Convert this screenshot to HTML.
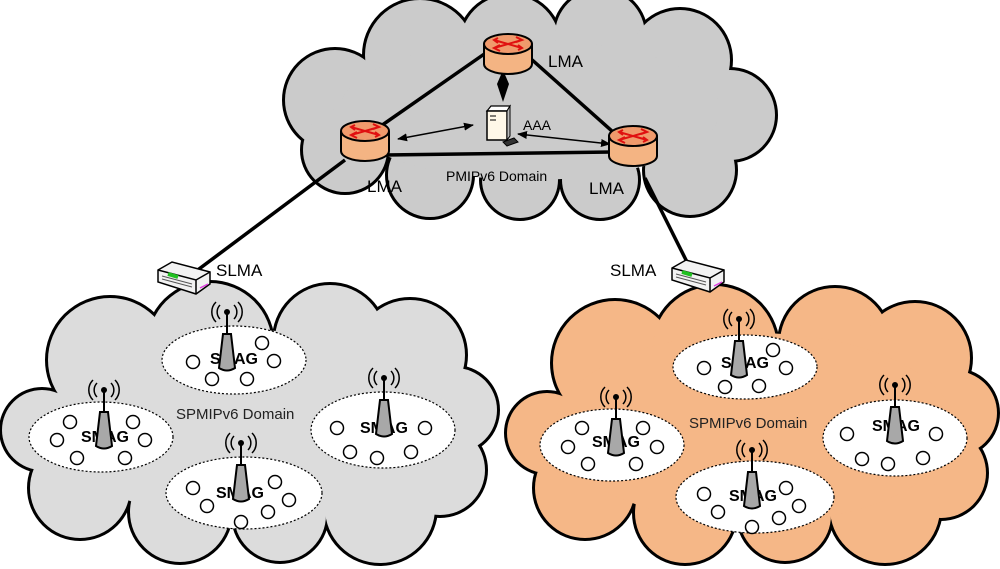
<!DOCTYPE html>
<html><head><meta charset="utf-8"><style>
html,body{margin:0;padding:0;background:#fff}
svg{display:block}
text{font-family:"Liberation Sans",sans-serif}
</style></head><body>
<svg width="1000" height="569" viewBox="0 0 1000 569" xmlns="http://www.w3.org/2000/svg">
<defs>
<g id="tower">
<path d="M-7,-7 A10,10 0 0 0 -7,7 M7,-7 A10,10 0 0 1 7,7 M-11,-10 A14,14 0 0 0 -11,10 M11,-10 A14,14 0 0 1 11,10" fill="none" stroke="#000" stroke-width="1.5"/>
<line x1="0" y1="0" x2="0" y2="24" stroke="#000" stroke-width="2"/>
<circle cx="0" cy="0" r="3" fill="#000"/>
<path d="M-4,22 L4,22 L8,56 Q0,61 -8,56 Z" fill="#a8a8a8" stroke="#000" stroke-width="2"/>
</g>
<g id="router">
<path d="M-24,0 L-24,20 A24,10 0 0 0 24,20 L24,0" fill="#f4b483" stroke="#000" stroke-width="2"/>
<ellipse cx="0" cy="0" rx="24" ry="10" fill="#f09a6c" stroke="#000" stroke-width="2"/>
<path d="M-14,4 L14,-4 M-14,-4 L14,4 M-10,-6 L-14,-4 L-10,-1 M10,6 L14,4 L10,1 M8,-7 L14,-4 L8,-2 M-8,7 L-14,4 L-8,1" fill="none" stroke="#e01010" stroke-width="2"/>
</g>
<g id="slma">
<path d="M0,8 L14,0 L52,10 L52,22 L38,32 L0,20 Z" fill="#f2f2f2" stroke="#000" stroke-width="1.5"/>
<path d="M0,8 L38,18 L52,10 M38,18 L38,32" fill="none" stroke="#000" stroke-width="1.5"/>
<path d="M4,14 L34,22 M4,17 L34,25" stroke="#555" stroke-width="1"/>
<path d="M10,12 L20,15" stroke="#20c020" stroke-width="4"/>
<path d="M42,26 L50,22" stroke="#e040e0" stroke-width="1.5"/>
</g>
<marker id="ah" markerWidth="10" markerHeight="8" refX="9" refY="4" orient="auto-start-reverse" markerUnits="userSpaceOnUse"><path d="M0,0 L10,4 L0,8 Z" fill="#000"/></marker>
</defs>

<!-- top cloud -->
<g stroke="#000" stroke-width="6" fill="#000">
<circle cx="335" cy="100" r="50"/><circle cx="420" cy="55" r="55"/><circle cx="510" cy="45" r="50"/><circle cx="600" cy="35" r="45"/><circle cx="680" cy="60" r="50"/><circle cx="730" cy="115" r="45"/><circle cx="690" cy="170" r="45"/><circle cx="600" cy="180" r="38"/><circle cx="520" cy="180" r="38"/><circle cx="430" cy="175" r="42"/><circle cx="345" cy="150" r="42"/>
</g>
<g fill="#cbcbcb">
<circle cx="335" cy="100" r="50"/><circle cx="420" cy="55" r="55"/><circle cx="510" cy="45" r="50"/><circle cx="600" cy="35" r="45"/><circle cx="680" cy="60" r="50"/><circle cx="730" cy="115" r="45"/><circle cx="690" cy="170" r="45"/><circle cx="600" cy="180" r="38"/><circle cx="520" cy="180" r="38"/><circle cx="430" cy="175" r="42"/><circle cx="345" cy="150" r="42"/><ellipse cx="530" cy="110" rx="190" ry="70"/>
</g>

<!-- left cloud -->
<g>
<g stroke="#000" stroke-width="6" fill="#000">
<circle cx="110" cy="360" r="62"/><circle cx="210" cy="345" r="62"/><circle cx="330" cy="340" r="55"/><circle cx="410" cy="355" r="55"/><circle cx="455" cy="410" r="42"/><circle cx="440" cy="470" r="45"/><circle cx="380" cy="508" r="55"/><circle cx="280" cy="515" r="46"/><circle cx="180" cy="512" r="50"/><circle cx="80" cy="488" r="50"/><circle cx="42" cy="430" r="40"/>
</g>
<g fill="#dcdcdc">
<circle cx="110" cy="360" r="62"/><circle cx="210" cy="345" r="62"/><circle cx="330" cy="340" r="55"/><circle cx="410" cy="355" r="55"/><circle cx="455" cy="410" r="42"/><circle cx="440" cy="470" r="45"/><circle cx="380" cy="508" r="55"/><circle cx="280" cy="515" r="46"/><circle cx="180" cy="512" r="50"/><circle cx="80" cy="488" r="50"/><circle cx="42" cy="430" r="40"/><ellipse cx="250" cy="425" rx="200" ry="95"/>
</g>
</g>
<!-- right cloud -->
<g transform="translate(505,3)">
<g stroke="#000" stroke-width="6" fill="#000">
<circle cx="110" cy="360" r="62"/><circle cx="210" cy="345" r="62"/><circle cx="330" cy="340" r="55"/><circle cx="410" cy="355" r="55"/><circle cx="450" cy="410" r="42"/><circle cx="436" cy="470" r="45"/><circle cx="380" cy="505" r="55"/><circle cx="280" cy="512" r="46"/><circle cx="180" cy="510" r="50"/><circle cx="80" cy="485" r="50"/><circle cx="42" cy="430" r="40"/>
</g>
<g fill="#f5b787">
<circle cx="110" cy="360" r="62"/><circle cx="210" cy="345" r="62"/><circle cx="330" cy="340" r="55"/><circle cx="410" cy="355" r="55"/><circle cx="450" cy="410" r="42"/><circle cx="436" cy="470" r="45"/><circle cx="380" cy="505" r="55"/><circle cx="280" cy="512" r="46"/><circle cx="180" cy="510" r="50"/><circle cx="80" cy="485" r="50"/><circle cx="42" cy="430" r="40"/><ellipse cx="250" cy="425" rx="200" ry="95"/>
</g>
</g>

<!-- links -->
<g stroke="#000" stroke-width="3.5" fill="none">
<line x1="490" y1="50" x2="368" y2="135"/>
<line x1="530" y1="58" x2="622" y2="140"/>
<line x1="385" y1="155" x2="612" y2="152"/>
<line x1="345" y1="160" x2="195" y2="272"/>
<line x1="645" y1="178" x2="690" y2="268"/>
</g>
<g stroke="#000" stroke-width="1.5" fill="none">
<line x1="398" y1="139" x2="473" y2="125" marker-start="url(#ah)" marker-end="url(#ah)"/>
<line x1="518" y1="134" x2="610" y2="144" marker-start="url(#ah)" marker-end="url(#ah)"/>
</g>
<path d="M503,70 L509,84 L503,102 L497,84 Z" fill="#000"/>

<use href="#router" x="508" y="44"/>
<use href="#router" x="365" y="131"/>
<use href="#router" x="633" y="136"/>

<!-- server -->
<g>
<path d="M487,111 L491,106 L510,106 L507,111 Z" fill="#fff" stroke="#000" stroke-width="1.2"/>
<rect x="487" y="111" width="20" height="29" fill="#fff8e8" stroke="#000" stroke-width="1.5"/>
<path d="M507,111 L510,106 L510,136 L507,140 Z" fill="#bbb" stroke="#000" stroke-width="1"/>
<line x1="490" y1="116" x2="496" y2="116" stroke="#000"/><line x1="490" y1="120" x2="496" y2="120" stroke="#000"/>
<path d="M503,142 L514,138 L518,142 L507,146 Z" fill="#333" stroke="#000"/>
</g>

<g font-size="17" fill="#000">
<text x="548" y="67">LMA</text>
<text x="367" y="192">LMA</text>
<text x="589" y="194">LMA</text>
<text x="523" y="130" font-size="14">AAA</text>
<text x="446" y="181" font-size="14">PMIPv6 Domain</text>
<text x="216" y="276">SLMA</text>
<text x="610" y="276">SLMA</text>
<text x="176" y="419" font-size="15" fill="#222">SPMIPv6 Domain</text>
<text x="689" y="428" font-size="15" fill="#222">SPMIPv6 Domain</text>
</g>

<use href="#slma" x="158" y="262"/>
<use href="#slma" x="672" y="260"/>

<!-- cells -->
<g fill="#fff" stroke="#000" stroke-width="1.2" stroke-dasharray="2,2">
<ellipse cx="234" cy="360" rx="72" ry="34"/>
<ellipse cx="101" cy="437" rx="72" ry="35"/>
<ellipse cx="383" cy="430" rx="72" ry="38"/>
<ellipse cx="244" cy="493" rx="78" ry="36"/>
<ellipse cx="745" cy="367" rx="72" ry="32"/>
<ellipse cx="612" cy="445" rx="72" ry="36"/>
<ellipse cx="895" cy="438" rx="72" ry="38"/>
<ellipse cx="755" cy="497" rx="79" ry="36"/>
</g>
<g fill="#fff" stroke="#000" stroke-width="1.5">
<circle cx="193" cy="362" r="6.5"/><circle cx="262" cy="343" r="6.5"/><circle cx="274" cy="361" r="6.5"/><circle cx="212" cy="379" r="6.5"/><circle cx="247" cy="379" r="6.5"/>
<circle cx="70" cy="422" r="6.5"/><circle cx="133" cy="422" r="6.5"/><circle cx="57" cy="440" r="6.5"/><circle cx="145" cy="440" r="6.5"/><circle cx="77" cy="458" r="6.5"/><circle cx="125" cy="458" r="6.5"/>
<circle cx="337" cy="428" r="6.5"/><circle cx="425" cy="428" r="6.5"/><circle cx="350" cy="452" r="6.5"/><circle cx="377" cy="458" r="6.5"/><circle cx="411" cy="452" r="6.5"/>
<circle cx="193" cy="488" r="6.5"/><circle cx="275" cy="482" r="6.5"/><circle cx="207" cy="506" r="6.5"/><circle cx="289" cy="500" r="6.5"/><circle cx="268" cy="512" r="6.5"/><circle cx="241" cy="522" r="6.5"/>
<circle cx="704" cy="368" r="6.5"/><circle cx="773" cy="350" r="6.5"/><circle cx="786" cy="368" r="6.5"/><circle cx="725" cy="387" r="6.5"/><circle cx="759" cy="386" r="6.5"/>
<circle cx="582" cy="428" r="6.5"/><circle cx="643" cy="428" r="6.5"/><circle cx="568" cy="447" r="6.5"/><circle cx="657" cy="447" r="6.5"/><circle cx="588" cy="464" r="6.5"/><circle cx="636" cy="464" r="6.5"/>
<circle cx="847" cy="434" r="6.5"/><circle cx="936" cy="434" r="6.5"/><circle cx="862" cy="459" r="6.5"/><circle cx="888" cy="464" r="6.5"/><circle cx="923" cy="458" r="6.5"/>
<circle cx="704" cy="494" r="6.5"/><circle cx="786" cy="488" r="6.5"/><circle cx="718" cy="512" r="6.5"/><circle cx="799" cy="506" r="6.5"/><circle cx="779" cy="518" r="6.5"/><circle cx="752" cy="527" r="6.5"/>
</g>
<g font-size="16" font-weight="bold" text-anchor="middle" fill="#000">
<text x="234" y="364">SMAG</text>
<text x="105" y="442">SMAG</text>
<text x="384" y="433">SMAG</text>
<text x="240" y="498">SMAG</text>
<text x="745" y="368">SMAG</text>
<text x="616" y="447">SMAG</text>
<text x="896" y="431">SMAG</text>
<text x="753" y="501">SMAG</text>
</g>
<use href="#tower" x="227" y="312"/>
<use href="#tower" x="104" y="390"/>
<use href="#tower" x="384" y="378"/>
<use href="#tower" x="241" y="443"/>
<use href="#tower" x="739" y="319"/>
<use href="#tower" x="616" y="397"/>
<use href="#tower" x="895" y="385"/>
<use href="#tower" x="752" y="450"/>
</svg>
</body></html>
